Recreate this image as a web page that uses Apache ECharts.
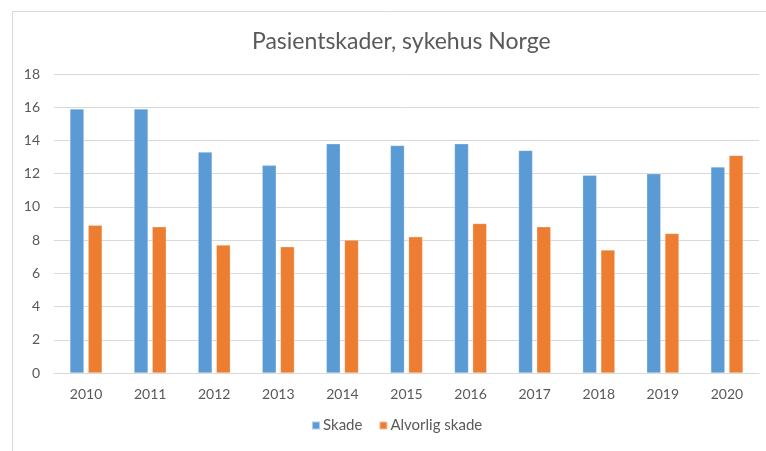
<!DOCTYPE html>
<html>
<head>
<meta charset="utf-8">
<script src="https://cdn.jsdelivr.net/npm/echarts@6/dist/echarts.min.js"></script>
<style>
  html, body { margin: 0; padding: 0; background: #fff; }
  #chart { width: 766px; height: 451px; }
</style>
</head>
<body>
<div id="chart"></div>
<script>
const years = ['2010', '2011', '2012', '2013', '2014', '2015', '2016', '2017', '2018', '2019', '2020']
const skade = [15.9, 15.9, 13.3, 12.5, 13.8, 13.7, 13.8, 13.4, 11.9, 12.0, 12.4]
const alvorligSkade = [8.9, 8.8, 7.7, 7.6, 8.0, 8.2, 9.0, 8.8, 7.4, 8.4, 13.1]

const textColor = '#595959'
const font = 'Lato, "Open Sans", sans-serif'

const chart = echarts.init(document.getElementById('chart'))

chart.setOption({
    animation: false,
    color: ['#5B9BD5', '#ED7D31'],
    // chart frame, its right and bottom edges run past the window
    graphic: [
        {
            type: 'rect',
            shape: { x: 12.5, y: 11.5, width: 800, height: 500 },
            style: { fill: 'none', stroke: '#d9d9d9', lineWidth: 1 },
            silent: true,
        },
    ],
    title: {
        text: 'Pasientskader, sykehus Norge',
        left: 247,
        top: 25,
        textStyle: {
            color: textColor,
            fontFamily: font,
            fontSize: 23,
            fontWeight: 'normal',
        },
    },
    legend: {
        bottom: 13,
        left: 306,
        itemWidth: 8,
        itemHeight: 8,
        itemGap: 16,
        icon: 'rect',
        textStyle: {
            color: textColor,
            fontFamily: font,
            fontSize: 15,
            padding: [0, 0, 0, -2],
        },
        data: ['Skade', 'Alvorlig skade'],
    },
    grid: {
        top: 74,
        left: 54,
        right: 7,
        bottom: 78,
    },
    xAxis: {
        type: 'category',
        data: years,
        axisLine: { lineStyle: { color: '#d9d9d9' } },
        axisTick: { show: false },
        axisLabel: {
            color: textColor,
            fontFamily: font,
            fontSize: 14,
            margin: 14,
        },
    },
    yAxis: {
        type: 'value',
        min: 0,
        max: 18,
        interval: 2,
        axisLine: { show: false },
        axisTick: { show: false },
        axisLabel: {
            color: textColor,
            fontFamily: font,
            fontSize: 14,
            margin: 14,
        },
        splitLine: { lineStyle: { color: '#d9d9d9' } },
    },
    series: [
        {
            name: 'Skade',
            type: 'bar',
            barWidth: 14,
            barGap: '30%',
            itemStyle: { borderColor: 'rgba(255,255,255,0.5)', borderWidth: 0.5 },
            data: skade,
        },
        {
            name: 'Alvorlig skade',
            type: 'bar',
            barWidth: 14,
            itemStyle: { borderColor: 'rgba(255,255,255,0.5)', borderWidth: 0.5 },
            data: alvorligSkade,
        },
    ],
})
</script>
</body>
</html>
